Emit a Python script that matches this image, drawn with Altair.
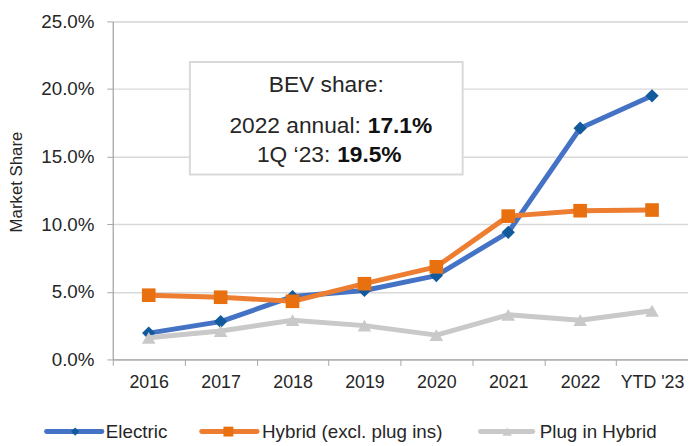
import altair as alt
import pandas as pd

categories = ["2016", "2017", "2018", "2019", "2020", "2021", "2022", "YTD '23"]
electric = [0.0195, 0.028, 0.0465, 0.051, 0.062, 0.094, 0.171, 0.195]
hybrid = [0.0475, 0.046, 0.043, 0.056, 0.0685, 0.106, 0.110, 0.1105]
plugin = [0.016, 0.021, 0.029, 0.025, 0.018, 0.033, 0.029, 0.036]
series_names = ["Electric", "Hybrid (excl. plug ins)", "Plug in Hybrid"]
line_colors = ["#4472C4", "#ED7D31", "#C9C9C9"]
marker_colors = ["#125A9C", "#E8700F", "#C9C9C9"]
marker_shapes = ["diamond", "square", "triangle-up"]
marker_sizes = [180, 190, 190]
y_ticks = [0.0, 0.05, 0.10, 0.15, 0.20, 0.25]

FONT = "Liberation Sans"
TXT = "#262626"
W, H = 582, 342

rows = []
for name, vals in zip(series_names, [electric, hybrid, plugin]):
    for c, v in zip(categories, vals):
        rows.append({"series": name, "cat": c, "value": v})
df = pd.DataFrame(rows)

x_enc = alt.X(
    "cat:O",
    sort=categories,
    bandPosition=0.5,
    scale=alt.Scale(type="band", domain=categories, paddingInner=0, paddingOuter=0),
    axis=alt.Axis(
        title=None, labelAngle=0, tickBand="extent", tickSize=6, labelPadding=8,
        labelFontSize=18, labelColor=TXT, labelFont=FONT,
        domainColor="#A6A6A6", tickColor="#A6A6A6", domainWidth=1.2, grid=False,
    ),
)
y_enc = alt.Y(
    "value:Q",
    scale=alt.Scale(domain=[0, 0.25], nice=False),
    axis=alt.Axis(
        format=".1%", values=y_ticks, title="Market Share",
        titleFontSize=17, titleFontWeight="normal", titleColor=TXT, titleFont=FONT,
        titleX=-88, titleY=162, titleAngle=-90, titleBaseline="bottom", titleAlign="center",
        labelFontSize=19, labelColor=TXT, labelFont=FONT, labelPadding=13, tickSize=6,
        domainColor="#A6A6A6", tickColor="#A6A6A6", domainWidth=1.2,
        grid=True, gridColor="#D9D9D9", gridWidth=1.5,
    ),
)

layers = []
for name, lc, mc, shp, sz in zip(series_names, line_colors, marker_colors, marker_shapes, marker_sizes):
    sub = df[df.series == name]
    layers.append(
        alt.Chart(sub).mark_line(color=lc, strokeWidth=5, strokeCap="round", strokeJoin="round")
        .encode(x=x_enc, y=y_enc)
    )
    layers.append(
        alt.Chart(sub).mark_point(shape=shp, size=sz, filled=True, color=mc, opacity=1)
        .encode(x=x_enc, y=y_enc)
    )

# annotation box
one = pd.DataFrame({"a": [0]})
AF = 23
box = alt.Chart(one).mark_rect(fill="white", stroke="#D9D9D9", strokeWidth=2).encode(
    x=alt.value(78), x2=alt.value(354), y=alt.value(41), y2=alt.value(155)
)
t1 = alt.Chart(one).mark_text(text="BEV share:", fontSize=AF, font=FONT, color=TXT,
                              align="center", baseline="middle").encode(x=alt.value(216), y=alt.value(64))
t2a = alt.Chart(one).mark_text(text="2022 annual:", fontSize=AF, font=FONT, color=TXT,
                               align="right", baseline="middle").encode(x=alt.value(251), y=alt.value(106))
t2b = alt.Chart(one).mark_text(text="17.1%", fontSize=AF, font=FONT, color="#111111", fontWeight="bold",
                               align="left", baseline="middle").encode(x=alt.value(258), y=alt.value(106))
t3a = alt.Chart(one).mark_text(text="1Q \u201823:", fontSize=AF, font=FONT, color=TXT,
                               align="right", baseline="middle").encode(x=alt.value(220), y=alt.value(135))
t3b = alt.Chart(one).mark_text(text="19.5%", fontSize=AF, font=FONT, color="#111111", fontWeight="bold",
                               align="left", baseline="middle").encode(x=alt.value(227), y=alt.value(135))

# custom legend (line + marker + label)
leg_y = 415
leg_x = [(-67, -11, -38, -7), (90, 146, 117, 151), (372, 425, 399, 432)]
leg_sizes = [70, 100, 90]
legend_layers = []
for name, lc, mc, shp, ls, (x1, x2, xm, xt) in zip(series_names, line_colors, marker_colors,
                                                    marker_shapes, leg_sizes, leg_x):
    legend_layers.append(
        alt.Chart(one).mark_rule(color=lc, strokeWidth=5, strokeCap="round")
        .encode(x=alt.value(x1), x2=alt.value(x2), y=alt.value(leg_y))
    )
    legend_layers.append(
        alt.Chart(one).mark_point(shape=shp, size=ls, filled=True, color=mc, opacity=1)
        .encode(x=alt.value(xm), y=alt.value(leg_y))
    )
    legend_layers.append(
        alt.Chart(one).mark_text(text=name, fontSize=19, font=FONT, color=TXT, align="left",
                                 baseline="middle")
        .encode(x=alt.value(xt), y=alt.value(leg_y))
    )

chart = alt.layer(*layers, box, t1, t2a, t2b, t3a, t3b, *legend_layers).properties(
    width=W, height=H,
    autosize=alt.AutoSizeParams(type="none"),
    padding={"left": 106, "top": 11, "right": 0, "bottom": 84},
).configure_view(stroke=None).configure(background="white")

chart.save("out.html", embed_options={"renderer": "svg", "actions": False})
